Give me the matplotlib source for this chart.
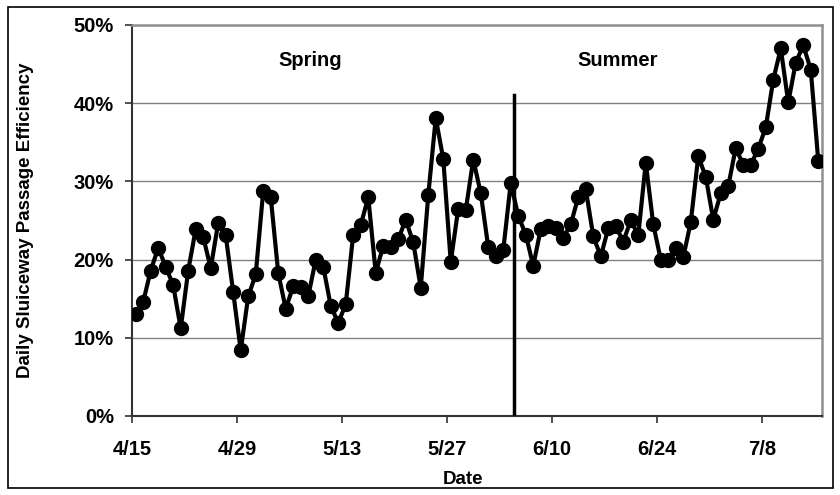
import numpy as np
import matplotlib
matplotlib.use("Agg")
import matplotlib.pyplot as plt
from matplotlib.patches import Rectangle
from matplotlib.ticker import FuncFormatter

plt.rcParams['font.family'] = ['Liberation Sans', 'DejaVu Sans']
plt.rcParams['font.weight'] = 'bold'

# daily sluiceway passage efficiency (%), one value per day starting 4/15
efficiency = [
    13.0, 14.6, 18.6, 21.5, 19.1, 16.7, 11.2, 18.6, 23.9, 22.9, 18.9, 24.7, 23.1, 15.8, 8.4,
    15.3, 18.1, 28.8, 28.0, 18.3, 13.7, 16.6, 16.5, 15.3, 20.0, 19.1, 14.1, 11.9, 14.3, 23.2, 24.4,
    28.0, 18.3, 21.8, 21.6, 22.6, 25.1, 22.2, 16.4, 28.2, 38.1, 32.9, 19.7, 26.5, 26.3, 32.8,
    28.5, 21.6, 20.5, 21.2, 29.8, 25.6, 23.2, 19.2, 23.9, 24.3, 24.0, 22.8, 24.5, 28.0, 29.0,
    23.0, 20.4, 24.0, 24.3, 22.3, 25.0, 23.1, 32.4, 24.5, 20.0, 20.0, 21.5, 20.3, 24.8, 33.2,
    30.6, 25.1, 28.5, 29.4, 34.3, 32.1, 32.1, 34.2, 36.9, 43.0, 47.0, 40.1, 45.2, 47.4, 44.3, 32.6,
]
tick_days = [0, 14, 28, 42, 56, 70, 84]
tick_labels = ['4/15', '4/29', '5/13', '5/27', '6/10', '6/24', '7/8']
season_split = 51  # first day of summer period (6/5)
season_names = ['Spring', 'Summer']

day = np.arange(len(efficiency)) + 0.5

fig = plt.figure(figsize=(8.4, 4.95), dpi=100)
ax = fig.add_axes([0.1571, 0.1596, 0.8215, 0.7899])

ax.plot(day, efficiency, color='black', lw=3.0, marker='o', ms=10,
        markerfacecolor='black', markeredgecolor='black', zorder=3)

# spring / summer divider
ax.plot([season_split, season_split], [0, 41], color='black', lw=2.5, zorder=4)
ax.text(23.7, 45.4, season_names[0], ha='center', va='center', fontsize=14.5, fontweight='bold')
ax.text(64.7, 45.4, season_names[1], ha='center', va='center', fontsize=14.5, fontweight='bold')

ax.set_xlim(0, 92)
ax.set_ylim(0, 50)
ax.set_xticks(tick_days)
ax.set_xticklabels(tick_labels)
ax.set_yticks(np.arange(0, 51, 10))
ax.yaxis.set_major_formatter(FuncFormatter(lambda v, p: f'{v:.0f}%'))
ax.grid(axis='y', color='#808080', lw=1.0)
ax.set_axisbelow(True)

ax.tick_params(axis='both', direction='out', length=5, width=1.2, color='#333333',
               labelsize=14.5)
ax.tick_params(axis='x', pad=12)
ax.tick_params(axis='y', pad=8)
for lab in ax.get_xticklabels() + ax.get_yticklabels():
    lab.set_fontweight('bold')

for side in ['left', 'bottom']:
    ax.spines[side].set_color('#333333')
    ax.spines[side].set_linewidth(1.5)
for side in ['top', 'right']:
    ax.spines[side].set_color('#909090')
    ax.spines[side].set_linewidth(1.8)

ax.set_xlabel('Date', fontsize=13.5, fontweight='bold')
ax.xaxis.set_label_coords(0.48, -0.141)
ax.set_ylabel('Daily Sluiceway Passage Efficiency', fontsize=13.5, fontweight='bold')
ax.yaxis.set_label_coords(-0.142, 0.5)

# outer frame around the whole chart
fig.patches.append(Rectangle((8 / 840, 7 / 495), 825 / 840, 481 / 495,
                             transform=fig.transFigure, fill=False,
                             edgecolor='black', lw=1.2))

fig.savefig('out.png', dpi=100)
